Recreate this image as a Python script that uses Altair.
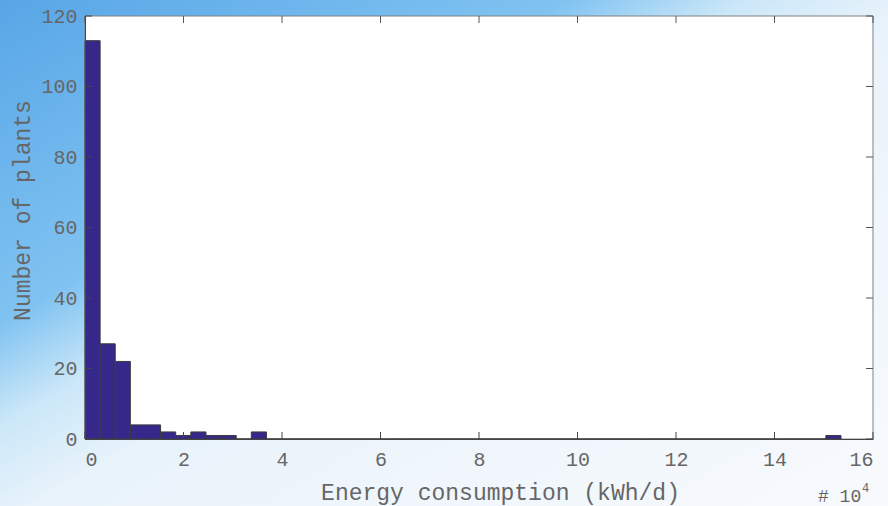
import altair as alt
import pandas as pd

# Histogram counts per bin (bins of equal width, energy in units of 10^4 kWh/d)
counts = [113, 27, 22, 4, 4, 2, 1, 2, 1, 1,
          0, 2, 0, 0, 0, 0, 0, 0, 0, 0,
          0, 0, 0, 0, 0, 0, 0, 0, 0, 0,
          0, 0, 0, 0, 0, 0, 0, 0, 0, 0,
          0, 0, 0, 0, 0, 0, 0, 0, 0, 1]
bin_width = 0.307  # in 10^4 kWh/d
x_ticks = [0, 2, 4, 6, 8, 10, 12, 14, 16]
y_ticks = [0, 20, 40, 60, 80, 100, 120]

W, H = 788, 423

bars = pd.DataFrame({
    "start": [i * bin_width for i in range(len(counts))],
    "end": [(i + 1) * bin_width for i in range(len(counts))],
    "count": counts,
})
xt = pd.DataFrame({"start": x_ticks})
yt = pd.DataFrame({"count": y_ticks})
one = pd.DataFrame({"a": [0]})

FONT = "Liberation Mono"
TXT = "#666666"

xscale = alt.Scale(domain=[0, 16], nice=False, zero=False)
yscale = alt.Scale(domain=[0, 120], nice=False)
x_axis = alt.Axis(values=x_ticks, format="d", title="Energy consumption (kWh/d)",
                  titleX=415, titleY=53, titleAlign="center", titleBaseline="middle",
                  labelPadding=10, zindex=2)
y_axis = alt.Axis(values=y_ticks, format="d", title="Number of plants",
                  titleX=-63, titleY=194, titleAlign="center", titleBaseline="middle",
                  labelPadding=8, zindex=2)

bg = alt.Chart(one).mark_rect(
    fill=alt.Gradient(
        gradient="linear", x1=0, y1=0, x2=1, y2=1,
        stops=[
            alt.GradientStop(color="#58a6e7", offset=0),
            alt.GradientStop(color="#80c3f1", offset=0.32),
            alt.GradientStop(color="#cbe7f8", offset=0.42),
            alt.GradientStop(color="#e9f3fb", offset=0.52),
            alt.GradientStop(color="#f8fafd", offset=1),
        ],
    )
).encode(x=alt.value(-85), x2=alt.value(803), y=alt.value(-16), y2=alt.value(490))

plot_bg = alt.Chart(one).mark_rect(fill="white", stroke="#808080", strokeWidth=1).encode(
    x=alt.value(0), x2=alt.value(W), y=alt.value(0), y2=alt.value(H))

hist = alt.Chart(bars).mark_rect(fill="#35288a", stroke="#3c3c3c", strokeWidth=1).encode(
    x=alt.X("start:Q", scale=xscale, axis=x_axis),
    x2="end:Q",
    y=alt.Y("count:Q", scale=yscale, axis=y_axis),
    y2=alt.datum(0),
)

tick_len = 7
xt_bottom = alt.Chart(xt).mark_rule(color="#444444").encode(
    x=alt.X("start:Q", scale=xscale, axis=x_axis),
    y=alt.value(H), y2=alt.value(H - tick_len))
xt_top = alt.Chart(xt).mark_rule(color="#555555").encode(
    x=alt.X("start:Q", scale=xscale, axis=x_axis),
    y=alt.value(0), y2=alt.value(tick_len))
yt_left = alt.Chart(yt).mark_rule(color="#444444").encode(
    y=alt.Y("count:Q", scale=yscale, axis=y_axis),
    x=alt.value(0), x2=alt.value(tick_len))
yt_right = alt.Chart(yt).mark_rule(color="#555555").encode(
    y=alt.Y("count:Q", scale=yscale, axis=y_axis),
    x=alt.value(W - tick_len), x2=alt.value(W))

exp_base = alt.Chart(one).mark_text(text="# 10", font=FONT, fontSize=18, color=TXT,
                                     align="left", baseline="alphabetic").encode(
    x=alt.value(733), y=alt.value(486))
exp_sup = alt.Chart(one).mark_text(text="4", font=FONT, fontSize=12, color=TXT,
                                    align="left", baseline="alphabetic").encode(
    x=alt.value(777), y=alt.value(476))

chart = alt.layer(bg, plot_bg, hist, xt_bottom, xt_top, yt_left, yt_right, exp_base, exp_sup).properties(
    width=W, height=H,
    autosize=alt.AutoSizeParams(type="none"),
    padding={"left": 85, "top": 16, "right": 15, "bottom": 67},
    background="#eef6fc",
).configure_view(strokeWidth=0).configure_axis(
    labelFont=FONT, labelFontSize=20, labelColor=TXT,
    titleFont=FONT, titleFontSize=23, titleFontWeight="normal", titleColor=TXT,
    grid=False, ticks=False, domainColor="#444444",
)

chart.save("out.html", embed_options={"renderer": "svg", "actions": False})
